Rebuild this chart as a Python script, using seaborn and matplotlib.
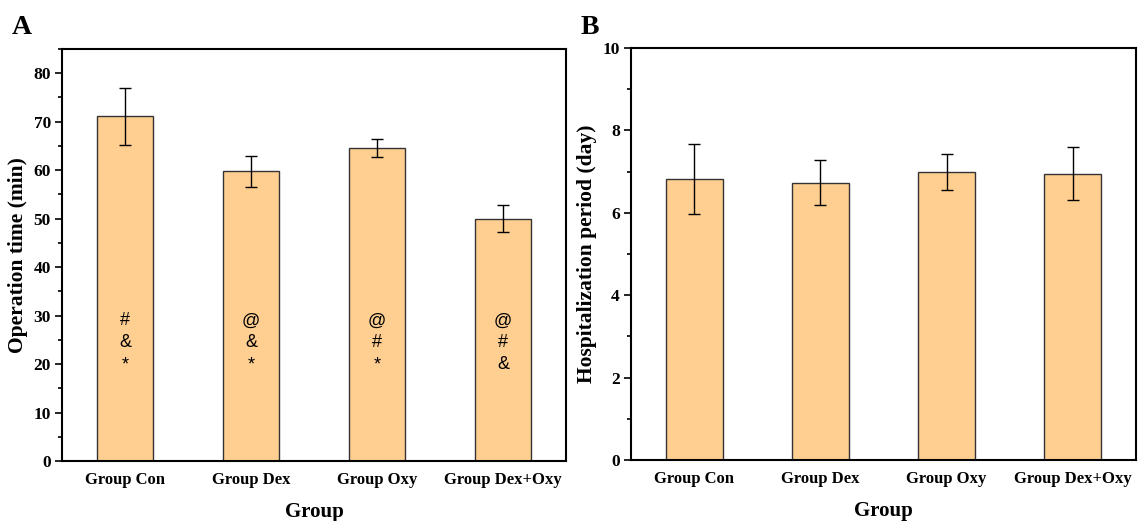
import matplotlib
matplotlib.use("Agg")
import matplotlib.pyplot as plt
import seaborn as sns
import pandas as pd
import numpy as np
from matplotlib.ticker import MultipleLocator

groups = ["Group Con", "Group Dex", "Group Oxy", "Group Dex+Oxy"]
op_time = [71.1, 59.8, 64.5, 50.0]
op_time_sd = [5.95, 3.2, 1.85, 2.8]
hosp = [6.81, 6.73, 6.99, 6.95]
hosp_sd = [0.85, 0.54, 0.43, 0.64]
marks = [["#", "&", "*"], ["@", "&", "*"], ["@", "#", "*"], ["@", "#", "&"]]

sns.set_theme(style="ticks")
plt.rcParams["font.family"] = ["Liberation Serif", "DejaVu Serif"]
plt.rcParams["text.color"] = "black"
plt.rcParams["axes.labelcolor"] = "black"
plt.rcParams["xtick.color"] = "black"
plt.rcParams["ytick.color"] = "black"

bar_color = "#FFCF91"
fig = plt.figure(figsize=(11.4, 5.21), dpi=100)
axA = fig.add_axes([62/1140, 1-461/521, (566-62)/1140, (461-49)/521])
axB = fig.add_axes([631/1140, 1-460/521, (1136-631)/1140, (460-48)/521])

dfA = pd.DataFrame({"Group": groups, "Value": op_time})
dfB = pd.DataFrame({"Group": groups, "Value": hosp})

def draw(ax, df, sd, ylim, major, minor, ylabel):
    sns.barplot(data=df, x="Group", y="Value", ax=ax, color=bar_color,
                width=0.45, edgecolor="#333333", linewidth=1.0, saturation=1)
    ax.errorbar(np.arange(len(df)), df["Value"], yerr=sd, fmt="none",
                ecolor="black", elinewidth=1.0, capsize=4, capthick=1.0)
    ax.set_xlim(-0.5, len(df) - 0.5)
    ax.set_ylim(*ylim)
    ax.yaxis.set_major_locator(MultipleLocator(major))
    ax.yaxis.set_minor_locator(MultipleLocator(minor))
    ax.tick_params(axis="y", which="major", direction="out", length=5, width=1.2,
                   labelsize=12.5, pad=3, colors="black")
    ax.tick_params(axis="y", which="minor", direction="out", length=3, width=1.2, colors="black")
    ax.tick_params(axis="x", length=0, labelsize=12, pad=8, colors="black")
    for lab in ax.get_xticklabels() + ax.get_yticklabels():
        lab.set_fontweight("bold")
    for sp in ax.spines.values():
        sp.set_linewidth(1.5)
        sp.set_color("black")
    ax.set_xlabel("Group", fontsize=15, fontweight="bold", labelpad=10, color="black")
    ax.set_ylabel(ylabel, fontsize=15.5, fontweight="bold", labelpad=4, color="black")

draw(axA, dfA, op_time_sd, (0, 85), 10, 5, "Operation time (min)")
draw(axB, dfB, hosp_sd, (0, 10), 2, 1, "Hospitalization period (day)")

for i, m in enumerate(marks):
    for j, s in enumerate(m):
        axA.text(i, 28.9 - j * 4.5, s, ha="center", va="center", fontsize=13,
                 color="black", family=["Liberation Sans", "DejaVu Sans"])

fig.text(12/1140, 1-28/521, "A", fontsize=20, fontweight="bold", va="center", ha="left", color="black")
fig.text(581/1140, 1-28/521, "B", fontsize=20, fontweight="bold", va="center", ha="left", color="black")

fig.savefig("out.png", dpi=100)
